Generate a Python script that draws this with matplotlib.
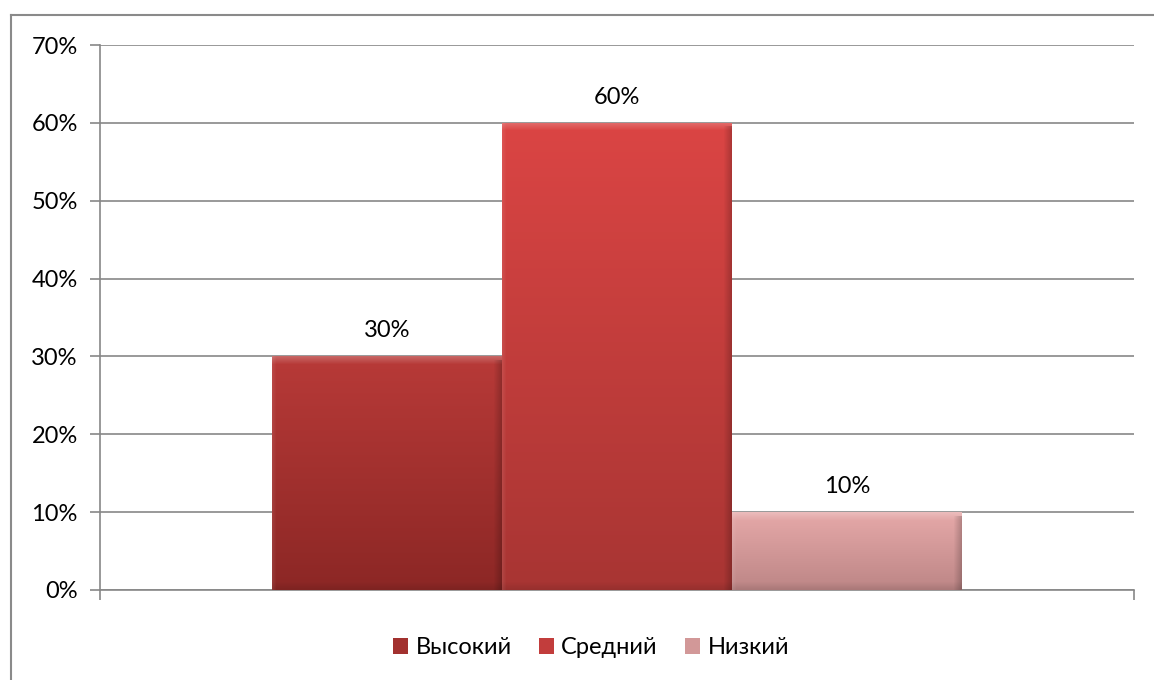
import matplotlib

matplotlib.use("Agg")
import matplotlib.pyplot as plt
import numpy as np
from matplotlib.patches import Patch
from matplotlib.ticker import FuncFormatter, MultipleLocator

plt.rcParams["font.family"] = ["Lato", "DejaVu Sans"]

series = ["Высокий", "Средний", "Низкий"]
values = [0.30, 0.60, 0.10]
top_colors = ["#b83a38", "#db4544", "#e6a9a9"]
bottom_colors = ["#8c2725", "#a83533", "#bd8686"]

W, H = 1154, 680
fig = plt.figure(figsize=(W / 100, H / 100), dpi=100)
ax = fig.add_axes([100 / W, 90 / H, 1034 / W, 545 / H])

# outer chart frame (only top/left edges visible in the crop)
fig.add_artist(plt.Line2D([11 / W, 11 / W], [0, 1 - 15 / H], transform=fig.transFigure,
                          color="#8a8a8a", lw=1.5))
fig.add_artist(plt.Line2D([11 / W, 1], [1 - 15 / H, 1 - 15 / H], transform=fig.transFigure,
                          color="#8a8a8a", lw=1.5))

ax.set_xlim(-1.25, 3.25)
ax.set_ylim(0, 0.70)
ax.yaxis.set_major_locator(MultipleLocator(0.10))
ax.yaxis.set_major_formatter(FuncFormatter(lambda v, _: f"{v * 100:.0f}%"))
ax.grid(axis="y", color="#878787", lw=1.2)
ax.set_axisbelow(True)
for s in ["top", "right"]:
    ax.spines[s].set_visible(False)
for s in ["left", "bottom"]:
    ax.spines[s].set_color("#878787")
    ax.spines[s].set_linewidth(1.2)
ax.set_xticks([-1.25, 3.25])
ax.set_xticklabels([])
ax.tick_params(axis="both", colors="#878787", length=7, width=1.2)
ax.tick_params(axis="y", labelcolor="black", labelsize=17, pad=9)


def hex_rgb(h):
    h = h.lstrip("#")
    return np.array([int(h[i:i + 2], 16) for i in (0, 2, 4)]) / 255.0


def bevel_image(top, bottom, w, h, b=8):
    t = np.linspace(0, 1, h)[:, None, None]
    img = hex_rgb(top) * (1 - t) + hex_rgb(bottom) * t
    img = np.repeat(img, w, axis=1)
    yy, xx = np.mgrid[0:h, 0:w]
    # soft highlight along the top edge, fading downwards
    fade = np.clip(1 - yy / b, 0, 1)[..., None]
    img = img * (1 - 0.22 * fade) + 0.22 * fade
    # darker shading along right and bottom edges
    rshade = np.clip(1 - (w - 1 - xx) / b, 0, 1)[..., None]
    img *= 1 - 0.2 * rshade * (yy >= b // 2)[..., None]
    bshade = np.clip(1 - (h - 1 - yy) / b, 0, 1)[..., None]
    img *= 1 - 0.1 * bshade
    lshade = np.clip(1 - xx / 4, 0, 1)[..., None]
    img = img * (1 - 0.08 * lshade) + 0.08 * lshade
    return np.clip(img, 0, 1)


fig.canvas.draw()
px_per_x = ax.transData.transform((1, 0))[0] - ax.transData.transform((0, 0))[0]
px_per_y = ax.transData.transform((0, 1))[1] - ax.transData.transform((0, 0))[1]

for i, (v, tc, bc) in enumerate(zip(values, top_colors, bottom_colors)):
    bar = ax.bar(i, v, width=1.0, color=tc, edgecolor="none", zorder=2)[0]
    w_px = int(round(px_per_x))
    h_px = max(int(round(v * px_per_y)), 10)
    im = ax.imshow(bevel_image(tc, bc, w_px, h_px), extent=(i - 0.5, i + 0.5, 0, v),
                   aspect="auto", zorder=3, interpolation="bilinear")
    im.set_clip_path(bar)
    ax.annotate(f"{v * 100:.0f}%", (i, v), xytext=(0, 11), textcoords="offset points",
                ha="center", va="bottom", fontsize=17)

ax.set_aspect("auto")
ax.set_xlim(-1.25, 3.25)
ax.set_ylim(0, 0.70)

handles = [Patch(facecolor=(hex_rgb(t) + hex_rgb(b)) / 2, edgecolor="none")
           for t, b in zip(top_colors, bottom_colors)]
fig.legend(handles, series, loc="center", bbox_to_anchor=(591 / W, 1 - 648 / H), ncol=3,
           frameon=False, fontsize=17, handlelength=0.65, handleheight=0.65,
           handletextpad=0.3, columnspacing=1.15)

fig.savefig("out.png", dpi=100)
